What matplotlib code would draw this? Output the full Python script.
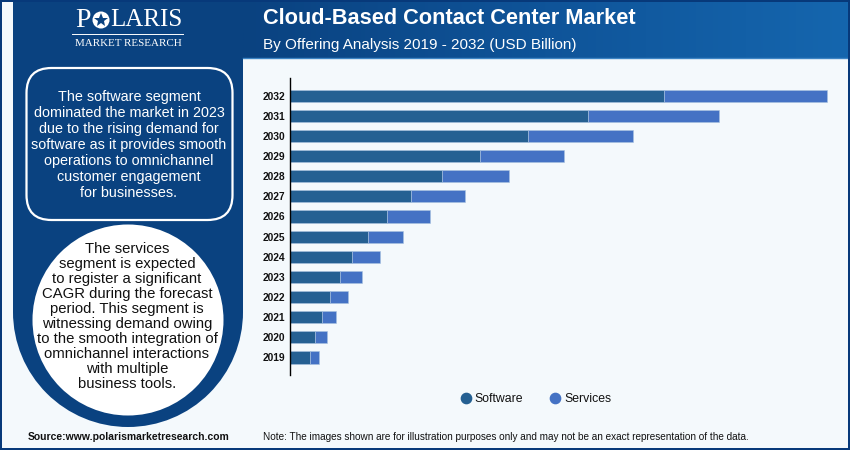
import numpy as np
import matplotlib
matplotlib.use('Agg')
import matplotlib.pyplot as plt
from matplotlib.lines import Line2D
from matplotlib.patches import Circle, FancyBboxPatch, Rectangle
from matplotlib.colors import LinearSegmentedColormap

years = ['2019', '2020', '2021', '2022', '2023', '2024', '2025',
         '2026', '2027', '2028', '2029', '2030', '2031', '2032']
software = [2.0, 2.5, 3.2, 4.0, 5.0, 6.2, 7.8, 9.7, 12.1, 15.2, 19.0, 23.8, 29.8, 37.4]
services = [0.9, 1.17, 1.4, 1.77, 2.2, 2.73, 3.44, 4.27, 5.4, 6.7, 8.4, 10.45, 13.1, 16.3]

title = 'Cloud-Based Contact Center Market'
subtitle = 'By Offering Analysis 2019 - 2032 (USD Billion)'
box_lines = ['The software segment', 'dominated the market in 2023', 'due to the rising demand for',
             'software as it provides smooth', 'operations to omnichannel',
             'customer engagement', 'for businesses.']
circle_lines = ['The services', 'segment is expected', 'to register a significant',
                'CAGR during the forecast', 'period. This segment is', 'witnessing demand owing',
                'to the smooth integration of', 'omnichannel interactions',
                'with multiple', 'business tools.']
source = 'Source:www.polarismarketresearch.com'
note = 'Note: The images shown are for illustration purposes only and may not be an exact representation of the data.'

NAVY = '#0a4280'
BG = '#f4f9fc'
W, H = 850, 450

plt.rcParams['font.family'] = ['Liberation Sans', 'DejaVu Sans']

fig = plt.figure(figsize=(8.5, 4.5), dpi=100, facecolor=BG)

# background layer in pixel coordinates
bg = fig.add_axes([0, 0, 1, 1])
bg.set_xlim(0, W)
bg.set_ylim(H, 0)
bg.axis('off')

bg.add_patch(Rectangle((13, 2), 230, 310, fc=NAVY, ec='none'))
bg.add_patch(Circle((128, 312), 115, fc=NAVY, ec='none'))

cmap = LinearSegmentedColormap.from_list('head', ['#0a4280', '#0f5499', '#1566ae'])
bg.imshow(np.linspace(0, 1, 256).reshape(1, -1), extent=(243, 848, 58, 2), cmap=cmap, aspect='auto')
bg.set_xlim(0, W)
bg.set_ylim(H, 0)
bg.plot([243, 848], [58, 58], color='#3d84c4', lw=1)

# outer frame
for rect in [(0, 0, W, 2), (0, 448, W, 2), (0, 0, 2, H), (848, 0, 2, H)]:
    bg.add_patch(Rectangle(rect[:2], rect[2], rect[3], fc='#07397a', ec='none', zorder=5))

# logo
bg.text(75.5, 20.5, 'P', color='white', family='Liberation Serif', fontsize=20, ha='left', va='center')
bg.add_patch(Circle((101, 20), 8.5, fc='white', ec='none'))
bg.plot([101], [20], marker='*', ms=10, color=NAVY, mew=0)
bg.text(110, 20.5, 'LARIS', color='white', family='Liberation Serif', fontsize=18, ha='left', va='center')
bg.plot([72, 183], [34, 34], color='white', lw=0.7)
bg.text(128, 44, 'MARKET RESEARCH', color='white', family='Liberation Serif', fontsize=7.9,
        ha='center', va='center')

# header text
bg.text(263, 19, title, color='white', fontsize=15.7, fontweight='bold', ha='left', va='center')
bg.text(263, 45, subtitle, color='white', fontsize=11, ha='left', va='center')

# left panel callouts
bg.add_patch(FancyBboxPatch((51.5, 93), 156, 102, boxstyle='round,pad=25,rounding_size=25',
                            fc='none', ec='white', lw=1.6))
for i, line in enumerate(box_lines):
    bg.text(129, 97 + i * 16, line, color='white', fontsize=10.4, ha='center', va='center')

bg.add_patch(Circle((128, 320), 95.5, fc='white', ec='none'))
for i, line in enumerate(circle_lines):
    bg.text(127, 249 + i * 15, line, color='#111111', fontsize=10.75, ha='center', va='center')

# footer
bg.text(28, 437, source, color='#111111', fontsize=7.45, fontweight='bold', ha='left', va='center')
bg.text(263, 437, note, color='#111111', fontsize=7.2, ha='left', va='center')

# chart
ax = fig.add_axes([290.2 / W, 1 - 375 / H, (840 - 290.2) / W, (375 - 78.3) / H])
ax.patch.set_alpha(0)
pos = np.arange(len(years))
ax.barh(pos, software, height=0.6, color='#256092', edgecolor='#a9c3e0', linewidth=0.4, label='Software')
ax.barh(pos, services, left=software, height=0.6, color='#4472c4', edgecolor='#a9c3e0', linewidth=0.4, label='Services')
ax.set_xlim(0, 54.98)
ax.set_ylim(-0.87, 13.86)
ax.set_yticks(pos)
ax.set_yticklabels(years, fontsize=7.4, fontweight='bold', color='#111111')
ax.tick_params(axis='y', length=0, pad=3.5)
ax.set_xticks([])
for side in ['top', 'right', 'bottom']:
    ax.spines[side].set_visible(False)
ax.spines['left'].set_linewidth(1)
ax.spines['left'].set_color('black')

handles = [Line2D([], [], ls='', marker='o', ms=7.4, color='#256092', label='Software'),
           Line2D([], [], ls='', marker='o', ms=7.4, color='#4472c4', label='Services')]
fig.legend(handles=handles, loc='center', bbox_to_anchor=(536 / W, 1 - 399 / H), ncol=2, frameon=False,
           fontsize=8.8, handlelength=0.8, handletextpad=0.34, columnspacing=2.2, labelcolor='#111111')

fig.savefig('out.png', dpi=100, facecolor=BG)
